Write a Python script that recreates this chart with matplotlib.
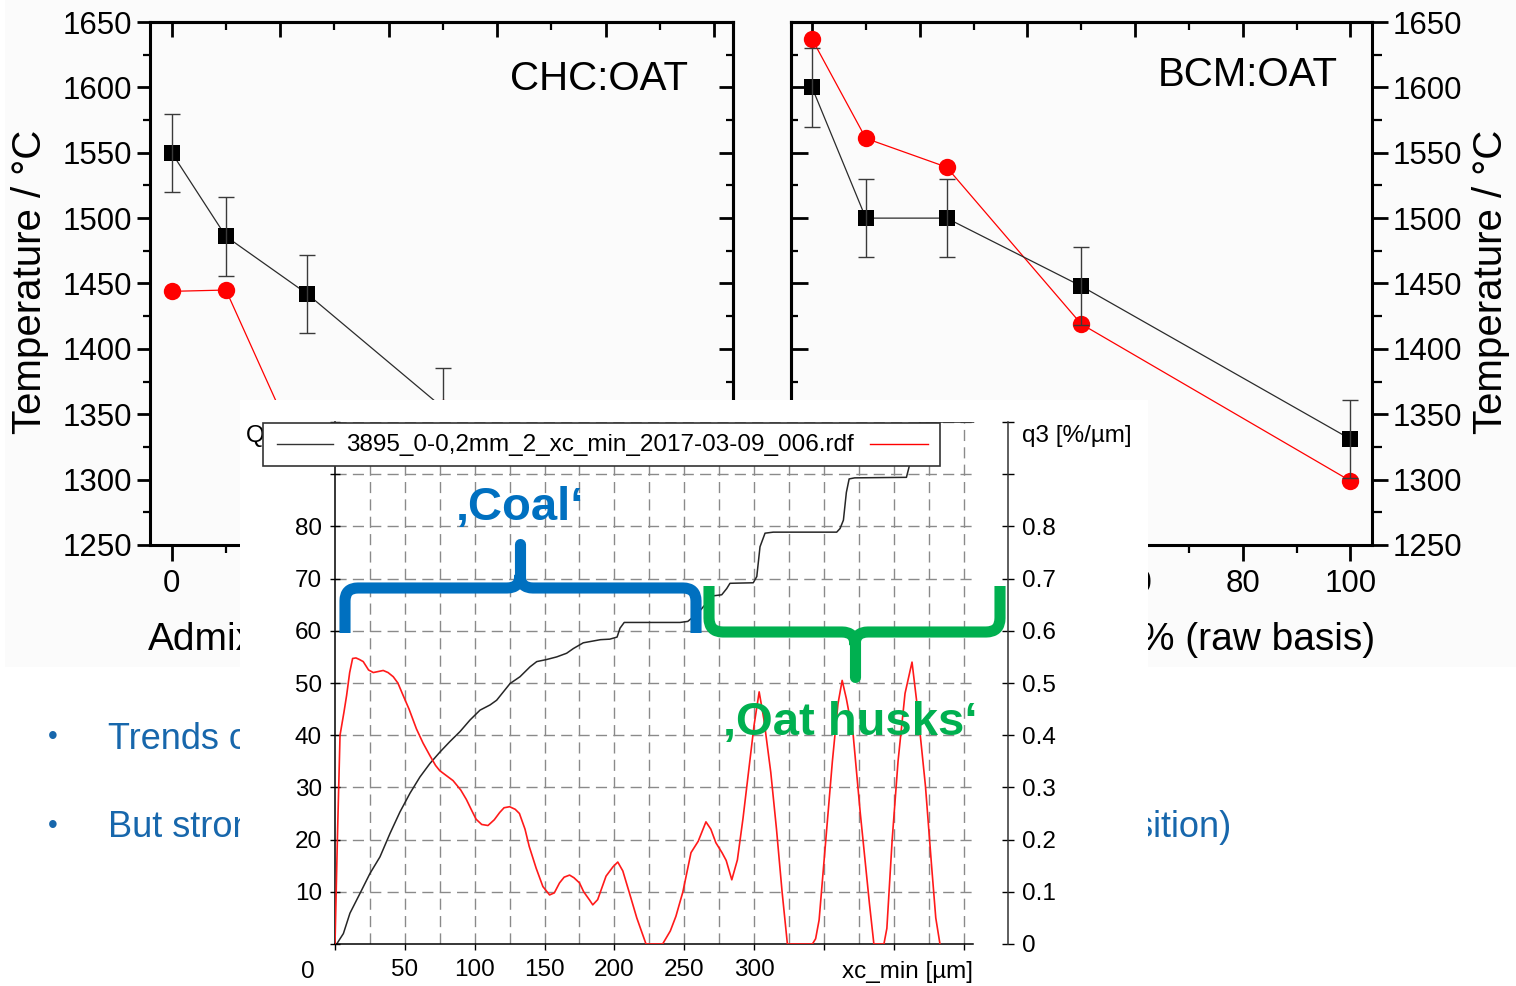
import matplotlib
matplotlib.use('Agg')
import matplotlib.pyplot as plt
from matplotlib.patches import Rectangle, PathPatch
from matplotlib.path import Path

plt.rcParams['font.family'] = ['Liberation Sans', 'DejaVu Sans']
plt.rcParams['lines.scale_dashes'] = False

W, H = 1516, 986
BLUE = '#0070C0'; GREEN = '#00B050'; SLIDE = '#1767AC'; RED = '#ff0000'; GRID = '#8a8a8a'

# ---- data: ash melting temperatures (left: CHC:OAT, right: BCM:OAT) ----
chc_x = [0, 10, 25, 50]
chc_black = [1550, 1486, 1442, 1355]
chc_red = [1444, 1445, 1307, 1355]
bcm_x = [0, 10, 25, 50, 100]
bcm_black = [1600, 1500, 1500, 1448, 1331]
bcm_red = [1637, 1561, 1539, 1419, 1299]
temp_err = 30
x_major = [0, 20, 40, 60, 80, 100]
# tick labels that are fully covered by the pasted inset are left blank
left_xlabels = ['0', '', '', '', '', '']
right_xlabels = ['', '', '', '60', '80', '100']

# ---- data: particle size distribution (inset) ----
cum_x = [0, 1.2, 6, 10.7, 17.9, 25, 32.2, 39.4, 46.5, 53.7, 60.8, 68, 75.2, 82.3, 89.5, 96.6, 103.8,
         111, 115.7, 120.5, 125.3, 132.4, 139.6, 144.4, 151.5, 158.7, 165.8, 170.6, 177.7, 190, 196.7,
         201.9, 204, 207, 247, 252.5, 259.8, 263.6, 270.8, 276.8, 280.4, 282.7, 299.4, 301.9, 304.2,
         307.8, 313.7, 359.1, 361.5, 363.9, 366, 368, 372, 409, 411, 413, 415, 417, 419, 457]
cum_Q3 = [0, 0, 2.0, 5.9, 9.7, 13.5, 16.7, 21.2, 25.3, 28.9, 32.0, 34.6, 36.8, 38.8, 40.7, 42.9, 44.8,
          45.8, 46.7, 48.3, 49.9, 51.2, 53.1, 54.1, 54.5, 55.0, 55.7, 56.6, 57.7, 58.3, 58.4,
          58.8, 60.5, 61.6, 61.6, 61.8, 63.4, 64.6, 66.7, 66.9, 68.1, 69.1, 69.2, 70.4, 76.1,
          78.7, 78.9, 78.9, 79.6, 81.2, 86.5, 89.1, 89.3, 89.4, 91.5, 94.5, 97.5, 99.4, 100, 100]
dens_x = [0, 1.7, 3.6, 6.4, 8.3, 10.5, 12.6, 15, 17.5, 20.2, 24, 27.4, 31, 34.5, 38, 41.7, 45, 48.8,
          53, 58.3, 63, 67.9, 72, 75, 80, 84.5, 90, 94, 98, 101, 105, 109.5, 114, 117.9, 121, 125,
          129, 132, 136, 139, 144, 148.8, 153.6, 157, 160.7, 164, 167.9, 171, 175, 178, 182, 184.5,
          188, 194, 199, 202.4, 206, 210.7, 216, 222.6, 234.5, 240, 244, 249, 254.8, 260, 265.5,
          269, 272.6, 277, 280, 284, 288, 292, 296, 300, 303.6, 307, 311.9, 316, 320, 323.8,
          341.7, 344, 346.5, 351, 356, 360, 363, 366, 370.9, 376, 382.5, 385.7, 392.9, 395,
          398.8, 403, 408, 413, 417, 422.6, 427, 430, 433]
dens_q3 = [0, 0.20, 0.40, 0.444, 0.476, 0.52, 0.547, 0.548, 0.545, 0.541, 0.525, 0.52, 0.522, 0.524,
           0.52, 0.512, 0.50, 0.476, 0.45, 0.412, 0.385, 0.361, 0.342, 0.332, 0.322, 0.313, 0.295,
           0.277, 0.255, 0.239, 0.229, 0.227, 0.238, 0.252, 0.261, 0.263, 0.258, 0.25, 0.22, 0.187,
           0.145, 0.11, 0.094, 0.098, 0.117, 0.128, 0.132, 0.127, 0.117, 0.10, 0.085, 0.075, 0.085,
           0.13, 0.148, 0.157, 0.14, 0.098, 0.05, 0.0, 0.0, 0.025, 0.053, 0.10, 0.175, 0.197, 0.234,
           0.22, 0.194, 0.175, 0.16, 0.123, 0.161, 0.24, 0.33, 0.42, 0.483, 0.43, 0.329, 0.22, 0.10,
           0.0, 0.0, 0.01, 0.046, 0.19, 0.35, 0.46, 0.505, 0.47, 0.40, 0.25, 0.078, 0.0, 0.0, 0.03,
           0.20, 0.35, 0.48, 0.54, 0.45, 0.303, 0.15, 0.05, 0.0]
legend_name = '3895_0-0,2mm_2_xc_min_2017-03-09_006.rdf'

fig = plt.figure(figsize=(W / 100, H / 100), dpi=100)


def rect(l, t, r, b):
    return [l / W, 1 - b / H, (r - l) / W, (b - t) / H]


def layer(z):
    a = fig.add_axes([0, 0, 1, 1], zorder=z)
    a.set_xlim(0, W); a.set_ylim(H, 0); a.axis('off')
    return a


bg = layer(-1)
bg.add_patch(Rectangle((5, 0), W - 5, 667, color='#fbfbfb', lw=0))


def temp_panel(box, xlim, labels_right, xlabels):
    ax = fig.add_axes(rect(*box))
    ax.set_facecolor('none')
    ax.set_xlim(*xlim); ax.set_ylim(1250, 1650)
    for s in ax.spines.values(): s.set_linewidth(2.2)
    ax.set_xticks(x_major); ax.set_xticklabels(xlabels)
    ax.set_xticks([10, 30, 50, 70, 90], minor=True)
    ax.set_yticks(range(1250, 1651, 50)); ax.set_yticks(range(1275, 1650, 50), minor=True)
    ax.tick_params(axis='x', which='major', direction='out', length=11.5, width=2, labelsize=22.5, pad=6, top=False)
    ax.tick_params(axis='x', which='minor', direction='out', length=5.8, width=1.6, top=False)
    if labels_right:
        ax.yaxis.tick_right()
        ax.tick_params(axis='y', which='major', direction='out', length=11.5, width=2, labelsize=22.5, pad=3.6)
        ax.tick_params(axis='y', which='minor', direction='out', length=7, width=1.6)
        sec = ax.secondary_yaxis('left')
        sec.tick_params(which='major', direction='in', length=12, width=2, labelleft=False)
        sec.tick_params(which='minor', direction='in', length=5, width=1.6)
    else:
        ax.tick_params(axis='y', which='major', direction='out', length=9.5, width=2, labelsize=22.5, pad=3.6, right=False)
        ax.tick_params(axis='y', which='minor', direction='out', length=5, width=1.6, right=False)
        sec = ax.secondary_yaxis('right')
        sec.tick_params(which='major', direction='in', length=10, width=2, labelright=False)
        sec.tick_params(which='minor', direction='in', length=5, width=1.6)
    sec.set_yticks(range(1250, 1651, 50)); sec.set_yticks(range(1275, 1650, 50), minor=True)
    for s in sec.spines.values(): s.set_linewidth(2.2)
    top = ax.secondary_xaxis('top')
    top.set_xticks(x_major); top.set_xticks([10, 30, 50, 70, 90], minor=True)
    top.tick_params(which='major', direction='in', length=11, width=2, labeltop=False)
    top.tick_params(which='minor', direction='in', length=6, width=1.6)
    for s in top.spines.values(): s.set_linewidth(2.2)
    return ax


axL = temp_panel((150, 22, 733, 545), (-4, 103.5), False, left_xlabels)
axR = temp_panel((791, 22, 1372, 545), (-3.9, 104), True, right_xlabels)

for ax, xs, yb, yr in [(axL, chc_x, chc_black, chc_red), (axR, bcm_x, bcm_black, bcm_red)]:
    ax.plot(xs, yr, '-', color=RED, lw=0.9, zorder=2)
    ax.plot(xs, yr, 'o', color=RED, ms=12.5, mew=0, zorder=2)
    ax.plot(xs, yb, '-', color='#2b2b2b', lw=0.9, zorder=3)
    ax.plot(xs, yb, 's', color='black', ms=12, mew=0, zorder=3)
    ax.errorbar(xs, yb, yerr=temp_err, fmt='none', ecolor='#3a3a3a', elinewidth=1,
                capsize=6, capthick=1, zorder=4)

# ---- slide texts (partly covered by the pasted inset) ----
base = layer(3)
base.text(30, 282, 'Temperature / °C', rotation=90, ha='center', va='center', fontsize=29)
base.text(1491, 282, 'Temperature / °C', rotation=90, ha='center', va='center', fontsize=29)
base.text(688, 90, 'CHC:OAT', ha='right', va='baseline', fontsize=29)
base.text(1338, 86, 'BCM:OAT', ha='right', va='baseline', fontsize=29)
base.text(148, 650, 'Admix', ha='left', va='baseline', fontsize=28)
base.text(1375, 650, '-% (raw basis)', ha='right', va='baseline', fontsize=28)
base.text(53, 737, '•', ha='center', va='center', fontsize=20, color=SLIDE)
base.text(53, 826, '•', ha='center', va='center', fontsize=20, color=SLIDE)
base.text(108, 749, 'Trends of', ha='left', va='baseline', fontsize=26, color=SLIDE)
base.text(108, 837, 'But strong', ha='left', va='baseline', fontsize=26, color=SLIDE)
base.text(1232, 837, 'osition)', ha='right', va='baseline', fontsize=26, color=SLIDE)

# ---- pasted particle size screenshot ----
ov = layer(4)
ov.add_patch(Rectangle((240, 400), 908, 586, color='white', lw=0))
ov.text(246, 436, 'Q3 [%]', ha='left', va='center', fontsize=17.5)

ins = fig.add_axes(rect(335, 422, 1008, 944), zorder=5)
ins.set_facecolor('none')
ins.set_xlim(0, 481.7); ins.set_ylim(0, 100)
ins.hlines(range(10, 101, 10), 0, 457, colors=GRID, lw=1, linestyles=(0, (8, 4.5)), zorder=1)
ins.vlines(range(25, 451, 25), 0, 100, colors=GRID, lw=1, linestyles=(0, (8, 4.5)), zorder=1)
ins.plot(cum_x, cum_Q3, color='#262626', lw=1.1, zorder=2)
ins.spines['top'].set_visible(False); ins.spines['right'].set_visible(False)
ins.spines['left'].set_linewidth(1.1); ins.spines['bottom'].set_linewidth(1.1)
ins.spines['bottom'].set_bounds(0, 457)
ins.set_xticks(range(0, 451, 50))
ins.set_xticklabels(['', '50', '100', '150', '200', '250', '300', '', '', ''])
ins.set_yticks(range(0, 101, 10))
ins.set_yticklabels([''] + [str(v) for v in range(10, 81, 10)] + ['', ''])
ins.tick_params(axis='x', direction='out', length=4.5, width=1, labelsize=17.5, pad=6.3)
ins.tick_params(axis='y', direction='inout', length=7, width=1, labelsize=17.5, pad=5.9)

tw = ins.twinx()
tw.set_zorder(5); tw.set_facecolor('none')
tw.set_ylim(0, 1.0)
tw.plot(dens_x, dens_q3, color='#ff1a1a', lw=1.2)
for k in ['top', 'left', 'bottom']: tw.spines[k].set_visible(False)
tw.spines['right'].set_linewidth(1.1); tw.spines['right'].set_color('#333333')
tw.set_yticks([v / 10 for v in range(11)])
tw.set_yticklabels(['0'] + ['0.%d' % v for v in range(1, 9)] + ['', ''])
tw.tick_params(axis='y', direction='inout', length=8, width=1, labelsize=17.5, pad=6)

# ---- annotations on top ----
top = layer(7)
top.add_patch(Rectangle((263, 423), 677, 43, facecolor='white', edgecolor='#333333', lw=1.2))
top.plot([277, 333], [444, 444], color='#333333', lw=1)
top.plot([870, 928], [444, 444], color=RED, lw=1)
top.text(346, 445, legend_name, ha='left', va='center', fontsize=17.5)
top.text(308, 972, '0', ha='center', va='center', fontsize=17.5)
top.text(907, 972, 'xc_min [µm]', ha='center', va='center', fontsize=17.5)
top.text(1022, 436, 'q3 [%/µm]', ha='left', va='center', fontsize=17.5)

M, L, C = Path.MOVETO, Path.LINETO, Path.CURVE3
blue_arms = Path([(345, 633), (345, 601), (345, 588), (358, 588), (507, 588), (520, 588), (520, 575),
                  (520, 575), (520, 588), (533, 588), (683, 588), (696, 588), (696, 601), (696, 633)],
                 [M, L, C, C, L, C, C, M, C, C, L, C, C, L])
top.add_patch(PathPatch(blue_arms, fill=False, edgecolor=BLUE, lw=8, capstyle='butt', joinstyle='round'))
top.plot([520, 520], [578, 544], color=BLUE, lw=8, solid_capstyle='round')
green_arms = Path([(709, 586), (709, 618), (709, 632), (723, 632), (842, 632), (855, 632), (855, 645),
                   (855, 645), (855, 632), (868, 632), (986, 632), (1000, 632), (1000, 618), (1000, 586)],
                  [M, L, C, C, L, C, C, M, C, C, L, C, C, L])
top.add_patch(PathPatch(green_arms, fill=False, edgecolor=GREEN, lw=8, capstyle='butt', joinstyle='round'))
top.plot([855, 855], [642, 677], color=GREEN, lw=8, solid_capstyle='round')
top.text(520, 520, '\u201aCoal\u2018', ha='center', va='baseline', fontsize=34, fontweight='bold', color=BLUE)
top.text(850, 735, '\u201aOat husks\u2018', ha='center', va='baseline', fontsize=34, fontweight='bold', color=GREEN)

fig.savefig('out.png', dpi=100)
